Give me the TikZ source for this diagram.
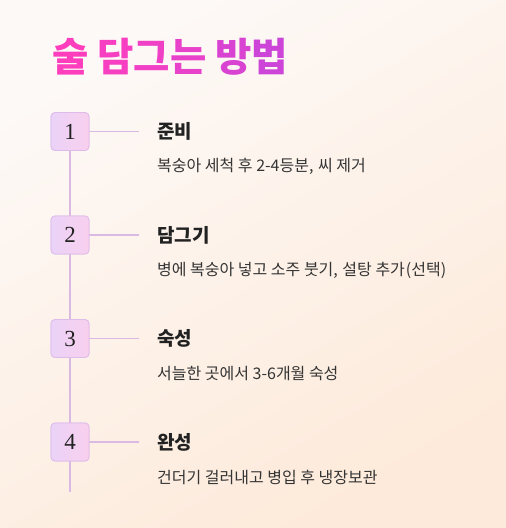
\documentclass[tikz,border=0pt]{standalone}
\usepackage{fontspec}
\usepackage{tikz}
\usetikzlibrary{positioning,calc}
\newfontfamily\kr{Noto Sans CJK KR}
\newfontfamily\digits{Liberation Serif}
\definecolor{bgTop}{RGB}{253,249,247}
\definecolor{bgBot}{RGB}{253,234,218}
\definecolor{headPink}{RGB}{255,62,190}
\definecolor{headPurple}{RGB}{204,68,216}
\definecolor{boxLilac}{RGB}{234,210,248}
\definecolor{boxRose}{RGB}{249,208,238}
\definecolor{boxEdge}{RGB}{222,188,234}
\definecolor{lineLilac}{RGB}{218,186,226}
\definecolor{inkDark}{RGB}{34,34,34}
\definecolor{inkGrey}{RGB}{52,52,52}

\begin{document}
\begin{tikzpicture}[x=1pt,y=-1pt,
      ln/.style={lineLilac,line width=1.8pt},
      num/.style={rectangle,rounded corners=4pt,draw=boxEdge,line width=0.8pt,
                  left color=boxLilac,right color=boxRose,
                  minimum width=38pt,minimum height=38pt,inner sep=0pt,
                  font=\digits\fontsize{23}{25}\selectfont,text=inkDark},
      ttl/.style={anchor=west,inner sep=0pt,font=\kr\bfseries\fontsize{19}{21}\selectfont,text=inkDark},
      dsc/.style={anchor=west,inner sep=0pt,font=\kr\fontsize{16}{18}\selectfont,text=inkGrey}]

    % ---------- background ----------
    \shade[top color=bgTop,bottom color=bgBot,shading angle=30] (0,0) rectangle (506,528);
    \useasboundingbox (0,0) rectangle (506,528);

    % ---------- heading ----------
    \node[anchor=west,inner sep=0pt,font=\kr\bfseries\fontsize{39.5}{42}\selectfont] (head) at (52,57)
      {\textcolor{headPink}{술} \textcolor{headPink!85!headPurple}{담}\textcolor{headPink!70!headPurple}{그}\textcolor{headPink!55!headPurple}{는} \textcolor{headPink!25!headPurple}{방}\textcolor{headPurple}{법}};

    % ---------- steps ----------
    \node[num] (b1) at (70,131.5) {1};
    \node[num] (b2) at (70,235)   {2};
    \node[num] (b3) at (70,338.5) {3};
    \node[num] (b4) at (70,442)   {4};
    \coordinate (tail) at (70,492);

    \draw[ln] (b1) -- (b2);
    \draw[ln] (b2) -- (b3);
    \draw[ln] (b3) -- (b4);
    \draw[ln] (b4) -- (tail);

    \foreach \n in {1,2,3,4} {
      \coordinate (e\n) at ($(b\n.east)+(50,0)$);
      \draw[ln] (b\n.east) -- (e\n);
    }

    \node[ttl] (t1) at (157,131.5) {준비};
    \node[dsc] (d1) at (157,166.5) {복숭아 세척 후 2-4등분,\hspace{1pt} 씨 제거};
    \node[ttl] (t2) at (157,235)   {담그기};
    \node[dsc] (d2) at (157,270)   {병에 복숭아 넣고 소주 붓기,\hspace{1pt} 설탕 추가\hspace{1pt}(선택)};
    \node[ttl] (t3) at (157,338.5) {숙성};
    \node[dsc] (d3) at (157,373.5) {서늘한 곳에서 3-6개월 숙성};
    \node[ttl] (t4) at (157,442)   {완성};
    \node[dsc] (d4) at (157,477)   {건더기 걸러내고 병입 후 냉장보관};

    % redraw boxes over the line
    \foreach \n/\t in {1/1,2/2,3/3,4/4} \node[num] at (b\n) {\t};
  \end{tikzpicture}
\end{document}
